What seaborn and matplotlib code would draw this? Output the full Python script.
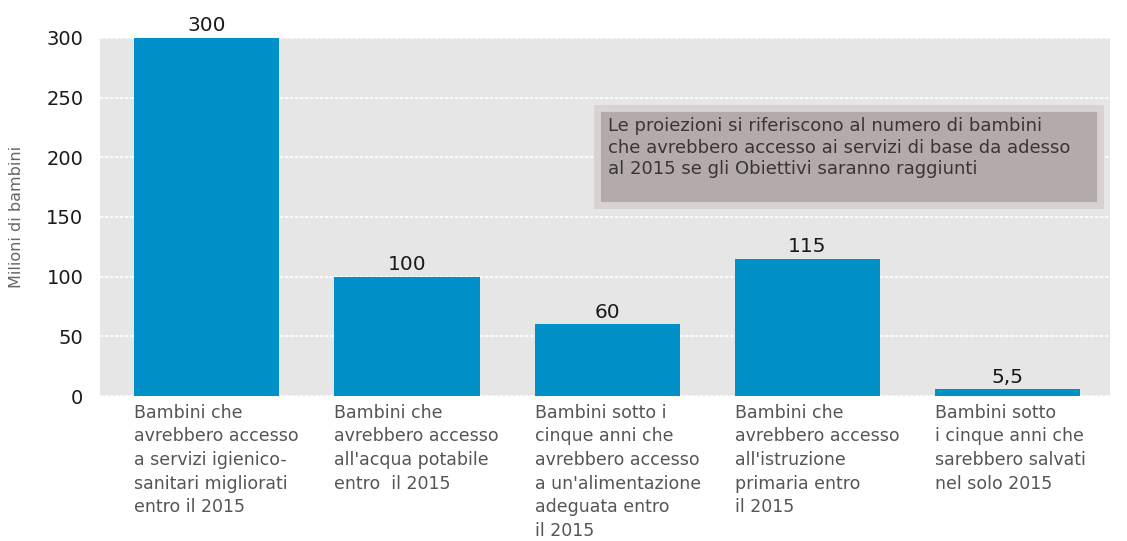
import matplotlib
matplotlib.use("Agg")
import pandas as pd
import seaborn as sns
import matplotlib.pyplot as plt
import matplotlib.transforms as mtransforms
from matplotlib.patches import Rectangle

# Dati
categorie = [
    "Bambini che\navrebbero accesso\na servizi igienico-\nsanitari migliorati\nentro il 2015",
    "Bambini che\navrebbero accesso\nall'acqua potabile\nentro  il 2015",
    "Bambini sotto i\ncinque anni che\navrebbero accesso\na un'alimentazione\nadeguata entro\nil 2015",
    "Bambini che\navrebbero accesso\nall'istruzione\nprimaria entro\nil 2015",
    "Bambini sotto\ni cinque anni che\nsarebbero salvati\nnel solo 2015",
]
valori = [300, 100, 60, 115, 5.5]
etichette_valori = ["300", "100", "60", "115", "5,5"]
y_ticks = [0, 50, 100, 150, 200, 250, 300]
nota = ("Le proiezioni si riferiscono al numero di bambini\n"
        "che avrebbero accesso ai servizi di base da adesso\n"
        "al 2015 se gli Obiettivi saranno raggiunti")

df = pd.DataFrame({"cat": range(len(valori)), "val": valori})

sns.set_style("white")
plt.rcParams['font.family'] = ['DejaVu Sans']

fig = plt.figure(figsize=(11.27, 5.41), dpi=100)
ax = fig.add_axes([0.0887, 0.268, 0.8963, 0.662])
ax.set_facecolor('#e6e6e6')

sns.barplot(data=df, x="cat", y="val", color='#0091c8', saturation=1,
            width=0.725, linewidth=0, ax=ax, zorder=3)

ax.set_ylim(0, 300)
ax.set_xlim(-0.535, 4.515)
ax.set_yticks(y_ticks)
ax.set_yticklabels([str(t) for t in y_ticks], fontsize=14, color='#1a1a1a')
ax.tick_params(axis='y', length=0, pad=12)
ax.set_xticks([])
ax.set_xlabel("")
ax.set_ylabel("Milioni di bambini", fontsize=11.5, color='#666666', labelpad=16)
ax.yaxis.grid(True, color='white', linestyle=(0, (2, 1)), linewidth=1.2, zorder=1)
ax.set_axisbelow(True)
for s in ax.spines.values():
    s.set_visible(False)

# etichette valori
for i, (v, lab) in enumerate(zip(valori, etichette_valori)):
    ax.text(i, v + 2, lab, ha='center', va='bottom', fontsize=14.5,
            color='#1a1a1a', clip_on=False)

# etichette categorie sotto le barre
trans = mtransforms.blended_transform_factory(ax.transData, ax.transAxes)
for i, lab in enumerate(categorie):
    ax.text(i - 0.3625, -0.022, lab, transform=trans, ha='left', va='top',
            fontsize=12.5, color='#555555', linespacing=1.4)

# nota con riquadro grigio
ax.add_patch(Rectangle((0.492, 0.534), 0.498, 0.27, transform=ax.transAxes,
                       facecolor='#b3abab', edgecolor='#d8d2d2',
                       linewidth=5, zorder=4))
ax.text(0.503, 0.778, nota, transform=ax.transAxes, ha='left', va='top',
        fontsize=13, color='#3a3535', linespacing=1.25, zorder=5)

fig.savefig("out.png", dpi=100)
